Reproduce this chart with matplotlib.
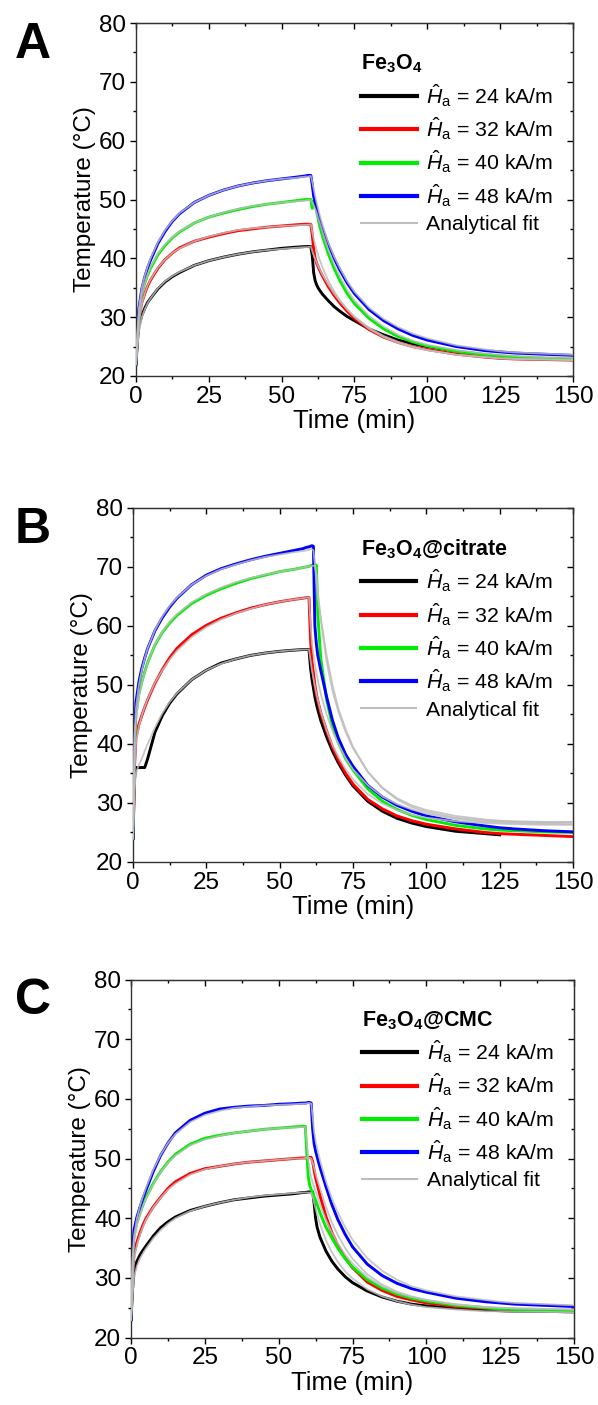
import numpy as np
import matplotlib
matplotlib.use("Agg")
import matplotlib.pyplot as plt
from matplotlib.ticker import MultipleLocator
from matplotlib.lines import Line2D

plt.rcParams['font.family'] = ['Liberation Sans', 'DejaVu Sans']
plt.rcParams['mathtext.fontset'] = 'custom'
plt.rcParams['mathtext.rm'] = 'Liberation Sans'
plt.rcParams['mathtext.it'] = 'Liberation Sans:italic'
plt.rcParams['mathtext.bf'] = 'Liberation Sans:bold'

# common time grid (min)
t = [0, 0.5, 1, 2, 3, 4, 5, 7.5, 10, 12.5, 15, 20, 25, 30, 35, 40, 45, 50, 55, 58, 59, 60,
     60.5, 61, 61.5, 62, 62.5, 63, 64, 66, 68, 70, 72.5, 75, 80, 85, 90, 95, 100,
     110, 120, 125, 130, 140, 150]

field_labels = ['24', '32', '40', '48']
colors = ['#000000', '#ff0000', '#00ee00', '#0000ff']

# ---- panel A : Fe3O4 ----
a_24 = [22, 26, 28.5, 30.3, 31.5, 32.5, 33.2, 34.8, 36.0, 36.9, 37.6, 38.8, 39.6, 40.2, 40.7, 41.1, 41.4, 41.7, 41.9, 42.0, 42.0, 42.0,
        40.5, 37.5, 36.2, 35.5, 35.0, 34.6, 33.9, 32.8, 31.8, 31.0, 30.1, 29.4, 28.0, 27.0, 26.1, 25.5, 25.0,
        24.2, 23.6, 23.4, 23.2, 23.0, 22.8]
a_32 = [22, 27, 30, 32.5, 34, 35.3, 36.3, 38.3, 39.8, 40.9, 41.8, 42.9, 43.6, 44.2, 44.7, 45.0, 45.3, 45.5, 45.7, 45.8, 45.8, 45.8,
        44.0, 41.5, 40.0, 39.2, 38.6, 38.0, 37.0, 35.2, 33.7, 32.4, 31.0, 29.8, 27.9, 26.6, 25.7, 25.0, 24.5,
        23.7, 23.2, 23.0, 22.9, 22.8, 22.7]
a_40 = [22, 28, 31, 34, 35.8, 37.2, 38.3, 40.6, 42.2, 43.5, 44.5, 46.0, 47.0, 47.7, 48.3, 48.8, 49.2, 49.5, 49.8, 50.0, 50.0, 50.0,
        48.5, 49.8, 49.5, 48.0, 46.8, 45.6, 43.8, 40.8, 38.3, 36.2, 34.0, 32.3, 29.8, 28.0, 26.7, 25.8, 25.1,
        24.2, 23.6, 23.4, 23.2, 23.0, 22.9]
a_48 = [22, 28.5, 31.5, 34.8, 36.8, 38.4, 39.7, 42.5, 44.6, 46.3, 47.6, 49.5, 50.7, 51.6, 52.3, 52.8, 53.2, 53.5, 53.8, 54.0, 54.1, 54.1,
        52.5, 50.5, 49.5, 48.5, 47.5, 46.6, 45.0, 42.3, 40.0, 38.0, 35.8, 34.0, 31.3, 29.4, 28.0, 26.9, 26.1,
        25.0, 24.3, 24.1, 23.9, 23.7, 23.5]
a_fit_24 = [22, 25, 27.5, 30.0, 31.3, 32.4, 33.2, 34.9, 36.1, 37.0, 37.7, 38.8, 39.6, 40.2, 40.7, 41.1, 41.4, 41.6, 41.8, 41.9, 41.9, 42.0,
            41.2, 40.5, 39.9, 39.3, 38.7, 38.2, 37.2, 35.5, 34.0, 32.7, 31.3, 30.1, 28.2, 26.8, 25.8, 25.0, 24.4,
            23.6, 23.2, 23.0, 22.9, 22.8, 22.7]
a_fit_32 = [22, 26, 29, 32.2, 34, 35.4, 36.4, 38.4, 39.8, 40.9, 41.7, 42.9, 43.7, 44.3, 44.8, 45.1, 45.3, 45.5, 45.6, 45.7, 45.7, 45.8,
            44.5, 43.3, 42.3, 41.4, 40.6, 39.8, 38.5, 36.2, 34.4, 32.9, 31.3, 30.0, 28.0, 26.6, 25.6, 24.9, 24.4,
            23.6, 23.2, 23.0, 22.9, 22.8, 22.7]
a_fit_40 = [22, 27, 30.5, 33.8, 35.8, 37.3, 38.5, 40.8, 42.4, 43.6, 44.6, 46.0, 47.0, 47.8, 48.4, 48.9, 49.2, 49.5, 49.7, 49.8, 49.9, 49.9,
            49.5, 49.0, 48.4, 47.7, 46.9, 46.1, 44.5, 41.5, 39.0, 36.9, 34.6, 32.8, 30.2, 28.4, 27.0, 26.0, 25.3,
            24.4, 23.8, 23.6, 23.4, 23.2, 23.1]
a_fit_48 = [22, 27.5, 31.5, 35, 37, 38.6, 40.0, 42.7, 44.8, 46.4, 47.7, 49.5, 50.7, 51.6, 52.3, 52.8, 53.2, 53.5, 53.7, 53.9, 53.9, 54.0,
            53.0, 51.8, 50.6, 49.5, 48.5, 47.5, 45.7, 42.7, 40.3, 38.3, 36.1, 34.3, 31.6, 29.7, 28.3, 27.2, 26.4,
            25.2, 24.5, 24.2, 24.0, 23.8, 23.6]

# ---- panel B : Fe3O4@citrate ----
nan = np.nan
b_24 = [24, 34, 36, 36, 36, 36, 37.5, 42.0, 44.8, 46.9, 48.5, 50.9, 52.5, 53.7, 54.4, 55.0, 55.4, 55.7, 55.9, 56.0, 56.0, 56.0,
        53.0, 51.0, 49.5, 48.0, 46.8, 45.8, 44.0, 41.2, 38.8, 36.8, 34.7, 32.9, 30.3, 28.6, 27.4, 26.6, 26.0,
        25.2, 24.8, 24.6, nan, nan, nan]
b_32 = [24, 36, 41, 43.3, 44.8, 46.2, 47.5, 50.3, 52.6, 54.6, 56.2, 58.5, 60.1, 61.3, 62.2, 63.0, 63.6, 64.1, 64.5, 64.7, 64.8, 64.8,
        58.0, 54.0, 52.0, 50.0, 48.5, 47.3, 45.3, 42.2, 39.5, 37.3, 35.0, 33.2, 30.6, 29.0, 27.8, 27.0, 26.4,
        25.6, 25.0, 24.8, 24.7, 24.5, 24.3]
b_40 = [24, 40, 45, 48.5, 50.5, 52.2, 53.8, 56.8, 58.9, 60.5, 61.8, 63.8, 65.2, 66.3, 67.2, 68.0, 68.6, 69.2, 69.6, 69.9, 70.0, 70.1,
        70.2, 70.3, 70.3, 70.3, 70.3, 62.0, 54.5, 47.5, 43.0, 40.2, 37.5, 35.6, 32.4, 30.3, 28.9, 27.9, 27.2,
        26.2, 25.6, 25.4, 25.3, 25.1, 25.0]
b_48 = [24, 42, 47, 50.5, 52.8, 54.6, 56.2, 59.2, 61.4, 63.2, 64.7, 67.0, 68.6, 69.7, 70.5, 71.2, 71.8, 72.3, 72.8, 73.1, 73.3, 73.4,
        73.5, 73.6, 73.5, 60.0, 57.0, 55.0, 52.5, 48.0, 44.0, 41.0, 38.2, 36.2, 33.0, 31.0, 29.6, 28.6, 27.8,
        26.8, 26.1, 25.8, 25.6, 25.3, 25.1]
b_fit_24 = [24, 32, 35, 36.5, 37.5, 38.8, 40.0, 42.8, 45.2, 47.1, 48.6, 50.9, 52.5, 53.6, 54.4, 55.0, 55.4, 55.7, 55.9, 56.0, 56.0, 56.0,
            54.2, 52.5, 51.1, 49.8, 48.6, 47.5, 45.5, 42.3, 39.8, 37.8, 35.7, 34.0, 31.5, 29.9, 28.8, 28.0, 27.5,
            26.9, 26.6, 26.5, 26.4, 26.3, 26.3]
b_fit_32 = [24, 35, 40, 43.0, 44.8, 46.3, 47.6, 50.4, 52.5, 54.3, 55.8, 58.1, 59.8, 61.1, 62.1, 62.9, 63.6, 64.1, 64.5, 64.7, 64.8, 64.8,
            60.5, 57.0, 55.2, 53.5, 52.1, 50.8, 48.5, 45.0, 42.2, 40.0, 37.6, 35.7, 33.0, 31.1, 29.8, 28.9, 28.2,
            27.3, 26.8, 26.7, 26.6, 26.5, 26.4]
b_fit_40 = [24, 39, 44, 48.0, 50.3, 52.1, 53.7, 56.9, 59.0, 60.7, 62.0, 64.0, 65.4, 66.5, 67.4, 68.1, 68.7, 69.2, 69.6, 69.9, 70.0, 70.1,
            70.1, 70.2, 70.2, 70.2, 69.0, 66.0, 61.0, 54.0, 49.0, 45.5, 42.0, 39.3, 35.3, 32.6, 30.8, 29.6, 28.8,
            27.8, 27.2, 27.0, 26.9, 26.8, 26.8]
b_fit_48 = [24, 41, 46, 50.0, 52.5, 54.5, 56.2, 59.3, 61.6, 63.4, 64.8, 67.0, 68.5, 69.6, 70.4, 71.1, 71.7, 72.1, 72.5, 72.7, 72.8, 72.9,
            73.0, 73.0, 72.8, 70.5, 67.5, 65.0, 61.5, 55.0, 50.0, 46.0, 42.5, 39.5, 35.3, 32.5, 30.6, 29.3, 28.5,
            27.5, 27.0, 26.9, 26.8, 26.7, 26.7]

# ---- panel C : Fe3O4@CMC ----
c_24 = [23, 28, 31, 32.8, 33.8, 34.6, 35.3, 37.0, 38.4, 39.4, 40.2, 41.3, 42.0, 42.6, 43.1, 43.4, 43.7, 43.9, 44.1, 44.3, 44.3, 44.4,
        44.4, 44.4, 44.4, 42.5, 40.0, 38.5, 36.8, 34.5, 32.8, 31.5, 30.2, 29.2, 27.8, 26.8, 26.1, 25.6, 25.3,
        24.9, 24.6, 24.5, 24.4, 24.4, 24.3]
c_32 = [23, 30, 34, 36, 37.5, 38.8, 39.9, 41.9, 43.5, 45.0, 46.1, 47.5, 48.3, 48.7, 49.1, 49.4, 49.6, 49.8, 50.0, 50.1, 50.1, 50.2,
        50.2, 50.2, 49.5, 48.0, 46.8, 45.8, 43.8, 40.3, 37.6, 35.5, 33.4, 31.7, 29.3, 27.9, 26.9, 26.3, 25.8,
        25.2, 24.9, 24.8, 24.7, 24.6, 24.5]
c_40 = [23, 33, 37, 39.3, 40.8, 42.2, 43.4, 45.8, 47.8, 49.4, 50.7, 52.4, 53.4, 53.9, 54.3, 54.6, 54.9, 55.1, 55.3, 55.4, 55.4, 47.0,
        45.5, 44.8, 44.2, 43.6, 43.0, 42.3, 40.9, 38.5, 36.7, 35.0, 33.2, 31.8, 29.7, 28.3, 27.3, 26.6, 26.1,
        25.4, 25.0, 24.8, 24.7, 24.5, 24.4]
c_48 = [23, 34, 38, 40.2, 41.8, 43.3, 44.6, 47.8, 50.5, 52.6, 54.3, 56.4, 57.6, 58.3, 58.6, 58.8, 58.9, 59.1, 59.2, 59.3, 59.3, 59.4,
        59.4, 59.3, 55.0, 52.5, 51.3, 50.3, 48.5, 45.3, 42.3, 39.8, 37.3, 35.2, 32.3, 30.4, 29.1, 28.2, 27.6,
        26.6, 26.0, 25.8, 25.6, 25.4, 25.2]
c_fit_24 = [23, 27, 30, 32.0, 33.2, 34.1, 34.9, 36.6, 38.0, 39.1, 40.0, 41.2, 42.0, 42.6, 43.1, 43.5, 43.8, 44.0, 44.2, 44.3, 44.3, 44.3,
            44.3, 44.2, 43.6, 42.6, 41.6, 40.7, 39.0, 36.3, 34.3, 32.7, 31.1, 29.9, 28.1, 26.9, 26.1, 25.5, 25.1,
            24.7, 24.4, 24.4, 24.3, 24.3, 24.2]
c_fit_32 = [23, 29, 33, 35.5, 37.2, 38.5, 39.7, 41.8, 43.4, 44.8, 45.8, 47.3, 48.2, 48.7, 49.1, 49.4, 49.6, 49.8, 50.0, 50.0, 50.1, 50.1,
            50.1, 50.0, 49.3, 48.4, 47.5, 46.6, 45.0, 41.9, 39.3, 37.2, 35.0, 33.2, 30.6, 28.9, 27.7, 26.9, 26.3,
            25.5, 25.1, 25.0, 24.9, 24.8, 24.7]
c_fit_40 = [23, 32, 36, 38.8, 40.6, 42.0, 43.2, 45.7, 47.7, 49.3, 50.5, 52.2, 53.2, 53.8, 54.3, 54.6, 54.9, 55.1, 55.2, 55.3, 55.3, 50.0,
            48.0, 46.8, 46.0, 45.2, 44.5, 43.8, 42.3, 39.7, 37.6, 35.8, 33.9, 32.4, 30.1, 28.6, 27.5, 26.8, 26.3,
            25.6, 25.1, 25.0, 24.9, 24.8, 24.7]
c_fit_48 = [23, 33, 37, 40.0, 42.0, 43.6, 45.0, 48.1, 50.6, 52.6, 54.1, 56.1, 57.3, 58.0, 58.5, 58.7, 58.9, 59.0, 59.1, 59.2, 59.2, 59.3,
            59.3, 59.2, 57.0, 54.5, 53.0, 51.8, 49.7, 46.2, 43.3, 41.0, 38.5, 36.4, 33.3, 31.2, 29.7, 28.6, 27.9,
            26.9, 26.3, 26.0, 25.8, 25.6, 25.4]

panels = [
    ('A', r'Fe$_\mathbf{3}$O$_\mathbf{4}$', [a_24, a_32, a_40, a_48], [a_fit_24, a_fit_32, a_fit_40, a_fit_48],
     [0.2274, 0.7324, 0.7308, 0.2512]),
    ('B', r'Fe$_\mathbf{3}$O$_\mathbf{4}$@citrate', [b_24, b_32, b_40, b_48], [b_fit_24, b_fit_32, b_fit_40, b_fit_48],
     [0.2224, 0.3865, 0.7358, 0.2520]),
    ('C', r'Fe$_\mathbf{3}$O$_\mathbf{4}$@CMC', [c_24, c_32, c_40, c_48], [c_fit_24, c_fit_32, c_fit_40, c_fit_48],
     [0.2191, 0.0480, 0.7408, 0.2548]),
]

fig = plt.figure(figsize=(5.98, 14.05), dpi=100)

for letter, title, data, fits, pos in panels:
    ax = fig.add_axes(pos)
    for y, c in zip(data, colors):
        ax.plot(t, y, color=c, lw=2.1, zorder=2)
    for y in fits:
        ax.plot(t, y, color='#bdbdbd', lw=1.3, alpha=0.85, zorder=3)

    ax.set_xlim(0, 150)
    ax.set_ylim(20, 80)
    ax.xaxis.set_major_locator(MultipleLocator(25))
    ax.xaxis.set_minor_locator(MultipleLocator(12.5))
    ax.yaxis.set_major_locator(MultipleLocator(10))
    ax.yaxis.set_minor_locator(MultipleLocator(5))
    ax.tick_params(which='major', direction='out', length=4, width=1, labelsize=17.5, pad=3)
    ax.tick_params(which='minor', direction='out', length=2.5, width=1)
    for s in ax.spines.values():
        s.set_linewidth(1.0)
        s.set_color('#333333')

    # mirrored ticks (inward) on top / right
    top = ax.secondary_xaxis('top')
    top.xaxis.set_major_locator(MultipleLocator(25))
    top.xaxis.set_minor_locator(MultipleLocator(12.5))
    top.tick_params(which='major', direction='in', length=4, width=1, labeltop=False)
    top.tick_params(which='minor', direction='in', length=2.5, width=1)
    right = ax.secondary_yaxis('right')
    right.yaxis.set_major_locator(MultipleLocator(10))
    right.yaxis.set_minor_locator(MultipleLocator(5))
    right.tick_params(which='major', direction='in', length=4, width=1, labelright=False)
    right.tick_params(which='minor', direction='in', length=2.5, width=1)

    ax.set_xlabel('Time (min)', fontsize=18.5, labelpad=1)
    ax.set_ylabel('Temperature (°C)', fontsize=17.5, labelpad=2)

    handles = [Line2D([], [], color=c, lw=3) for c in colors]
    handles.append(Line2D([], [], color='#bdbdbd', lw=1.5))
    labels = [r'$\hat{H}_\mathrm{a}$ = ' + f + ' kA/m' for f in field_labels] + ['Analytical fit']
    ax.legend(handles, labels, loc='upper right', frameon=False, fontsize=15.3,
              title=title, title_fontproperties={'weight': 'bold', 'size': 15.5},
              alignment='left', handlelength=2.6, handletextpad=0.45,
              labelspacing=0.3, borderaxespad=0.2, bbox_to_anchor=(0.984, 0.952))

    fig.text(0.025, pos[1] + pos[3] + 0.001, letter, fontsize=36, fontweight='bold', va='top', ha='left')

fig.savefig('out.png', dpi=100)
